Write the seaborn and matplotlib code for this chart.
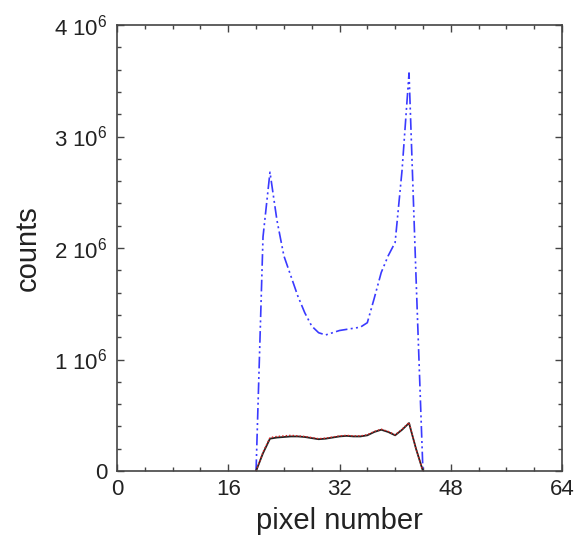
import numpy as np
import pandas as pd
import seaborn as sns
import matplotlib.pyplot as plt
from matplotlib.ticker import MultipleLocator

# pixel positions
pixels = list(range(20, 45))

# counts in units of 1e6
blue_counts = [0.0, 2.1, 2.68, 2.25, 1.93, 1.75, 1.57, 1.42, 1.30, 1.24, 1.22, 1.24,
               1.26, 1.27, 1.28, 1.29, 1.33, 1.55, 1.78, 1.93, 2.05, 2.7, 3.57, 1.75, 0.0]
black_counts = [0.0, 0.16, 0.29, 0.30, 0.305, 0.31, 0.31, 0.305, 0.295, 0.285, 0.29, 0.30,
                0.31, 0.315, 0.31, 0.31, 0.32, 0.35, 0.37, 0.35, 0.32, 0.37, 0.43, 0.20, 0.0]
red_counts = [0.0, 0.17, 0.30, 0.31, 0.315, 0.32, 0.315, 0.31, 0.30, 0.29, 0.295, 0.305,
              0.315, 0.32, 0.315, 0.315, 0.325, 0.355, 0.375, 0.355, 0.325, 0.375, 0.435, 0.20, 0.0]

x_ticks = [0, 16, 32, 48, 64]
y_ticks = [0, 1e6, 2e6, 3e6, 4e6]
y_tick_labels = ["0", r"1 10$^\mathregular{6}$", r"2 10$^\mathregular{6}$",
                 r"3 10$^\mathregular{6}$", r"4 10$^\mathregular{6}$"]

df = pd.DataFrame({
    "pixel": pixels,
    "blue": np.array(blue_counts) * 1e6,
    "black": np.array(black_counts) * 1e6,
    "red": np.array(red_counts) * 1e6,
})

sns.set_style("ticks")
plt.rcParams["font.family"] = ["Liberation Sans", "DejaVu Sans"]
plt.rcParams["text.color"] = "#222222"
plt.rcParams["axes.labelcolor"] = "#222222"

fig = plt.figure(figsize=(5.84, 5.41), dpi=100)
ax = fig.add_axes([117 / 584, 70 / 541, 445 / 584, 446 / 541])

sns.lineplot(data=df, x="pixel", y="blue", ax=ax, color="#3a3aff", linewidth=1.2,
             linestyle=(0, (7, 2, 1.2, 2, 1.2, 2)))
sns.lineplot(data=df, x="pixel", y="black", ax=ax, color="#222222", linewidth=1.3)
sns.lineplot(data=df, x="pixel", y="red", ax=ax, color="#dd2222", linewidth=1.0,
             linestyle=(0, (1, 1.5)))

ax.set_xlim(0, 64)
ax.set_ylim(0, 4e6)
ax.set_xticks(x_ticks)
ax.set_yticks(y_ticks)
ax.set_yticklabels(y_tick_labels)
ax.xaxis.set_minor_locator(MultipleLocator(4))
ax.yaxis.set_minor_locator(MultipleLocator(2e5))
ax.tick_params(which="both", direction="in", top=True, right=True,
               labelsize=16, colors="#444444", labelcolor="#222222")
ax.tick_params(which="major", length=5, width=1)
ax.tick_params(which="minor", length=3, width=1)
ax.tick_params(axis="x", which="major", pad=6)
ax.tick_params(axis="y", which="major", pad=7)
for s in ax.spines.values():
    s.set_color("#444444")
    s.set_linewidth(1.2)

ax.set_xlabel("pixel number", fontsize=21, labelpad=5)
ax.set_ylabel("counts", fontsize=21, labelpad=9)

fig.savefig("out.png", dpi=100)
